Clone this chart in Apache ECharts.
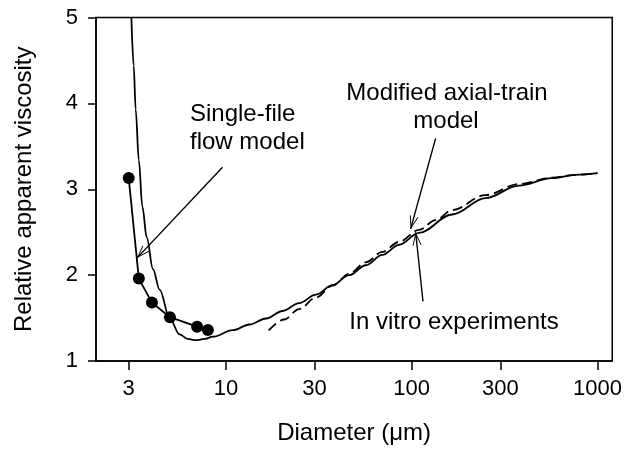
<!DOCTYPE html>
<html>
<head>
<meta charset="utf-8">
<script src="https://cdn.jsdelivr.net/npm/echarts@6/dist/echarts.min.js"></script>
<style>html,body{margin:0;padding:0;background:#fff}#c{width:625px;height:450px}</style>
</head>
<body>
<div id="c"></div>
<script>
// x tick labels (diameter, µm)
const xTicks = [3, 10, 30, 100, 300, 1000];
// Measured points (filled circles)
const dotD = [3.0, 3.4, 4.0, 5.0, 7.0, 8.0];
const dotV = [3.13, 1.96, 1.68, 1.51, 1.40, 1.36];
// Solid curve
const solidD = [3.10, 3.19, 3.27, 3.40, 3.55, 3.75, 4.05, 4.40, 4.98, 5.63, 6.22, 6.92, 7.67, 8.5, 10.9, 13.4, 16.45, 20.2, 24.8, 30.5, 37.5, 46.0, 56.6, 69.5, 85.4, 109.4, 165.1, 249.5, 376.6, 568.3, 760, 1000];
const solidV = [5.0, 4.44, 3.93, 3.34, 2.80, 2.44, 2.07, 1.83, 1.50, 1.31, 1.257, 1.243, 1.257, 1.283, 1.359, 1.425, 1.495, 1.582, 1.674, 1.773, 1.883, 1.999, 2.115, 2.236, 2.352, 2.491, 2.706, 2.897, 3.042, 3.129, 3.167, 3.187];
// Dashed curve
const dashD = [17.0, 20.6, 24.8, 30.5, 37.5, 46.0, 56.6, 69.5, 85.4, 109.4, 134.5, 165.1, 249.5, 376.6, 568.3, 760, 1000];
const dashV = [1.356, 1.483, 1.605, 1.738, 1.877, 2.016, 2.149, 2.271, 2.387, 2.526, 2.641, 2.757, 2.932, 3.06, 3.134, 3.168, 3.187];
// Annotation arrows: [start, tip] as [diameter, viscosity]
const arrowSingle = [[9.59, 3.256], [3.32, 2.198]];
const arrowAxial = [[134.5, 3.592], [98.7, 2.538]];
const arrowVitro = [[115, 1.695], [105, 2.499]];

const L = Math.log10;
const pts = (d, v) => d.map((x, i) => [L(x), v[i]]);
const seg = a => [{coord: [L(a[0][0]), a[0][1]]}, {coord: [L(a[1][0]), a[1][1]]}];

const FONT = '"Liberation Sans", Arial, Helvetica, sans-serif';
const chevron = 'path://M5,0 L5.01,0 Z M5,12 L10,24 L8.9,24 L5,14.6 L1.1,24 L0,24 Z';

const chart = echarts.init(document.getElementById('c'), null, {renderer: 'canvas'});
chart.setOption({
  animation: false,
  backgroundColor: '#fff',
  grid: {left: 96, right: 11, top: 17.5, bottom: 87.3, show: true, borderColor: '#000', borderWidth: 1.5, backgroundColor: 'transparent'},
  xAxis: {
    type: 'value', min: L(2), max: L(1200),
    name: 'Diameter (\u03bcm)', nameLocation: 'middle', nameGap: 60,
    nameTextStyle: {fontFamily: FONT, fontSize: 24, color: '#000'},
    axisLine: {show: true, lineStyle: {color: '#000', width: 1.5}},
    axisTick: {show: true, length: 9, inside: false, lineStyle: {color: '#000', width: 1.5}, customValues: xTicks.map(L)},
    axisLabel: {fontFamily: FONT, fontSize: 22, color: '#000', margin: 17, customValues: xTicks.map(L),
      formatter: v => String(Math.round(Math.pow(10, v)))},
    splitLine: {show: false}
  },
  yAxis: {
    type: 'value', min: 1, max: 5, interval: 1,
    name: 'Relative apparent viscosity', nameLocation: 'middle', nameGap: 60,
    nameTextStyle: {fontFamily: FONT, fontSize: 24, color: '#000'},
    axisLine: {show: true, lineStyle: {color: '#000', width: 1.5}},
    axisTick: {show: true, length: 8, lineStyle: {color: '#000', width: 1.5}},
    axisLabel: {fontFamily: FONT, fontSize: 22, color: '#000', margin: 18},
    splitLine: {show: false}
  },
  series: [
    {
      type: 'line', data: pts(solidD, solidV), showSymbol: false, smooth: 0.35, smoothMonotone: 'x',
      lineStyle: {color: '#000', width: 1.8}, silent: true, clip: true
    },
    {
      type: 'line', data: pts(dashD, dashV), showSymbol: false, smooth: 0.35, smoothMonotone: 'x',
      lineStyle: {color: '#000', width: 1.8, type: [10, 5]}, silent: true
    },
    {
      type: 'line', data: pts(dotD, dotV), symbol: 'circle', symbolSize: 12,
      itemStyle: {color: '#000'}, lineStyle: {color: '#000', width: 1.8}, silent: true, z: 3,
      markLine: {
        silent: true, symbol: ['none', chevron], symbolSize: [9, 26],
        label: {show: false}, lineStyle: {color: '#000', width: 1.4, type: 'solid'},
        emphasis: {disabled: true},
        data: [seg(arrowSingle), seg(arrowAxial), seg(arrowVitro)]
      }
    }
  ],
  graphic: [
    {type: 'text', left: 190, top: 102, style: {text: 'Single-file', font: '24px ' + FONT, fill: '#000'}},
    {type: 'text', left: 190, top: 130, style: {text: 'flow model', font: '24px ' + FONT, fill: '#000'}},
    {type: 'text', x: 447, y: 93, style: {text: 'Modified axial-train', font: '24px ' + FONT, fill: '#000', align: 'center', verticalAlign: 'middle'}},
    {type: 'text', x: 446, y: 121, style: {text: 'model', font: '24px ' + FONT, fill: '#000', align: 'center', verticalAlign: 'middle'}},
    {type: 'text', x: 454, y: 322, style: {text: 'In vitro experiments', font: '24px ' + FONT, fill: '#000', align: 'center', verticalAlign: 'middle'}}
  ]
});
</script>
</body>
</html>
